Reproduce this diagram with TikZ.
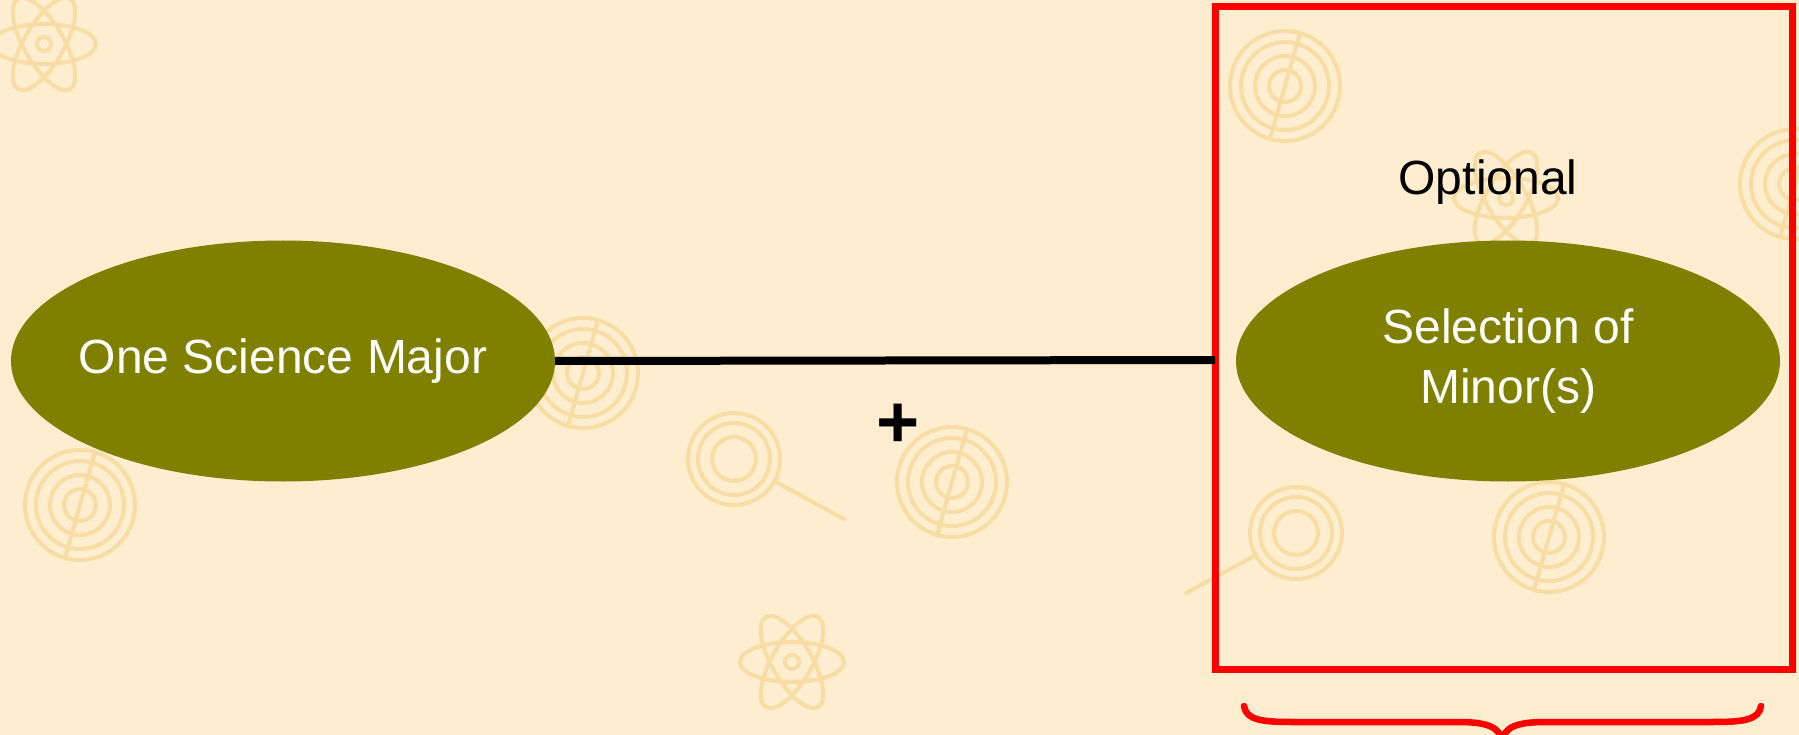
\documentclass[tikz,border=0pt]{standalone}
\usepackage{fontspec}
\setmainfont{Liberation Sans}
\usetikzlibrary{shapes.geometric}
\definecolor{bgcol}{RGB}{254,237,206}
\definecolor{iconcol}{RGB}{247,221,163}
\definecolor{olivefill}{RGB}{128,128,0}
\definecolor{boxred}{RGB}{255,0,0}
\tikzset{
  oval/.style={ellipse, fill=olivefill, draw=none, minimum width=544pt, minimum height=241pt, inner xsep=-40pt, inner ysep=0pt, text=white, align=center, font=\fontsize{48}{60}\selectfont},
  redframe/.style={draw=boxred, line width=7pt, minimum width=577pt, minimum height=663pt, inner sep=0pt},
  link/.style={draw=black, line width=8pt},
  label/.style={text=black, inner sep=0pt, font=\fontsize{48}{58}\selectfont},
  bracestyle/.style={draw=boxred, line width=6.5pt, line cap=round},
  iconline/.style={draw=iconcol, line width=4pt, line cap=round},
  atomicon/.pic={
    \draw[iconline] (0,0) circle (7);
    \draw[iconline] (0,0) ellipse (52 and 20);
    \draw[iconline, rotate=60] (0,0) ellipse (52 and 20);
    \draw[iconline, rotate=120] (0,0) ellipse (52 and 20);
  },
  globeicon/.pic={
    \draw[iconline] (0,0) circle (55);
    \draw[iconline] (0,0) circle (44);
    \draw[iconline] (0,0) circle (30);
    \draw[iconline] (0,0) circle (16);
    \draw[iconline] (15,-53) -- (-15,53);
  },
  lensicon/.pic={
    \draw[iconline] (0,0) circle (46);
    \draw[iconline] (0,0) circle (36);
    \draw[iconline] (0,0) circle (22);
    \draw[iconline] (40,22) -- (110,60);
  }
}
\begin{document}
\begin{tikzpicture}[x=1pt, y=-1pt]
\fill[bgcol] (0,0) rectangle (1799,735);
\useasboundingbox (0,0) rectangle (1799,735);
\begin{scope}
\clip (0,0) rectangle (1799,735);
\pic at (44,44) {atomicon};
\pic at (792,662) {atomicon};
\pic at (1506,198) {atomicon};
\pic at (583,373) {globeicon};
\pic at (952,482) {globeicon};
\pic at (1549,537) {globeicon};
\pic at (1285,86) {globeicon};
\pic at (1795,184) {globeicon};
\pic at (80,505) {globeicon};
\pic at (734,459) {lensicon};
\pic[xscale=-1] at (1296,533) {lensicon};
\end{scope}
\node[redframe] (box) at (1504,338) {};
\node[oval] (maj) at (283,361) {One Science Major};
\node[oval] (min) at (1508,361) {Selection of\\Minor(s)};
\node[label] (opt) at (1488,182) {Optional};
\node[label, font=\fontsize{74}{78}\selectfont\bfseries] (plus) at (898,426) {+};
\coordinate (lineend) at (1215,360);
\draw[link] (maj.east) -- (lineend);
\coordinate (bl) at (1244,706);
\coordinate (bt) at (1502,742);
\coordinate (br) at (1761,706);
\draw[bracestyle] (bl) .. controls (1246,720) and (1262,722) .. (1292,722) -- (1458,722) .. controls (1490,722) and (1500,728) .. (bt)
  .. controls (1504,728) and (1514,722) .. (1546,722) -- (1713,722) .. controls (1743,722) and (1759,720) .. (br);
\end{tikzpicture}
\end{document}
